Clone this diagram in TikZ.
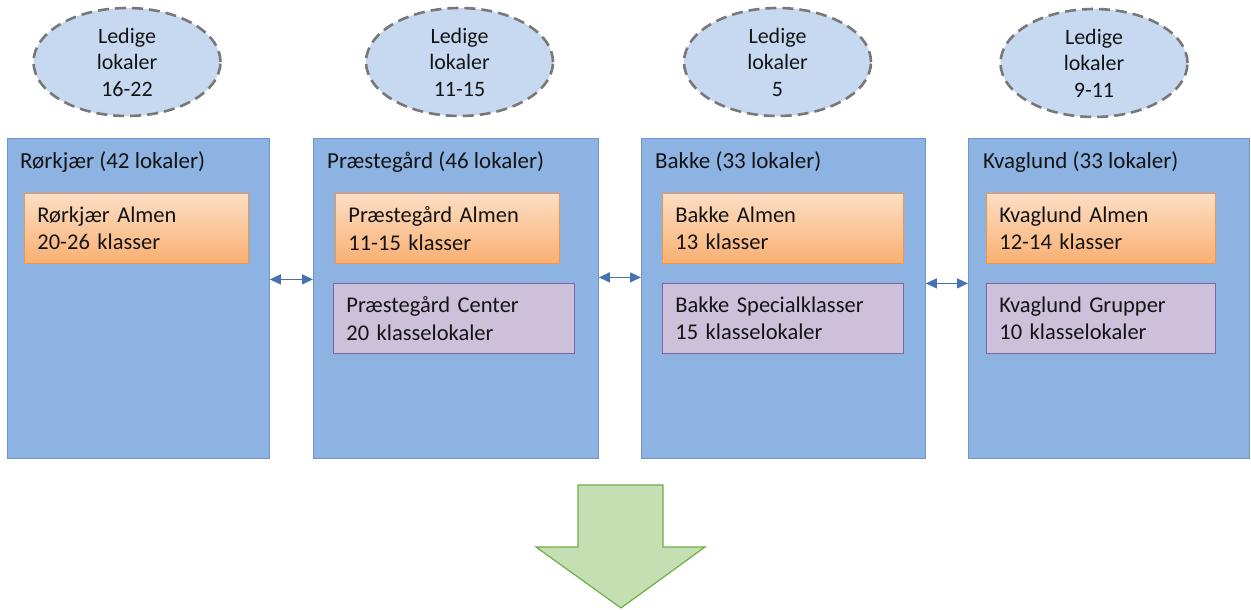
\documentclass[tikz,border=0pt]{standalone}
\usepackage{fontspec}
\setmainfont{Carlito}
\usetikzlibrary{shapes.geometric,arrows.meta}
\definecolor{boxblue}{RGB}{141,179,226}
\definecolor{boxblueborder}{RGB}{110,150,200}
\definecolor{ellfill}{RGB}{198,217,241}
\definecolor{ellborder}{RGB}{120,120,120}
\definecolor{orangetop}{RGB}{252,222,196}
\definecolor{orangebot}{RGB}{249,176,114}
\definecolor{orangeborder}{RGB}{240,150,70}
\definecolor{purplefill}{RGB}{204,192,218}
\definecolor{purpleborder}{RGB}{128,100,162}
\definecolor{greenfill}{RGB}{196,224,178}
\definecolor{greenborder}{RGB}{112,173,71}
\definecolor{arrowblue}{RGB}{70,114,180}
\definecolor{textcol}{RGB}{20,20,20}
\tikzset{
  bigbox/.style={draw=boxblueborder, fill=boxblue, line width=0.8pt, anchor=north west, inner sep=0pt},
  titletext/.style={anchor=west, font=\fontsize{23}{27}\selectfont, text=textcol, inner sep=0pt},
  orangebox/.style={draw=orangeborder, line width=0.8pt, top color=orangetop, bottom color=orangebot, anchor=north west, inner xsep=13pt, inner ysep=0pt, align=left, font=\fontsize{22.5}{27.5}\selectfont, text=textcol},
  purplebox/.style={draw=purpleborder, line width=0.8pt, fill=purplefill, anchor=north west, inner xsep=13pt, inner ysep=0pt, align=left, font=\fontsize{22.5}{27.5}\selectfont, text=textcol},
  ledig/.style={ellipse, draw=ellborder, fill=ellfill, line width=2.6pt, dash pattern=on 11pt off 6pt, minimum width=187pt, minimum height=108pt, inner sep=0pt, align=center, font=\fontsize{22}{26.5}\selectfont, text=textcol},
  link/.style={draw=arrowblue, line width=1.3pt, {Triangle[length=11pt,width=10pt]}-{Triangle[length=11pt,width=10pt]}},
}
\begin{document}
\begin{tikzpicture}[x=1pt,y=-1pt]
\useasboundingbox (0,0) rectangle (1251,610);

% ellipses
\node[ledig] (e1) at (127,62) {Ledige\\lokaler\\16-22};
\node[ledig] (e2) at (459.5,62) {Ledige\\lokaler\\11-15};
\node[ledig] (e3) at (777.5,62) {Ledige\\lokaler\\5};
\node[ledig] (e4) at (1094,63) {Ledige\\lokaler\\9-11};

% big boxes
\node[bigbox, minimum width=262pt, minimum height=320pt] (b1) at (7,138) {};
\node[bigbox, minimum width=285pt, minimum height=320pt] (b2) at (313,138) {};
\node[bigbox, minimum width=284pt, minimum height=320pt] (b3) at (641,138) {};
\node[bigbox, minimum width=281pt, minimum height=320pt] (b4) at (968,138) {};

% titles
\node[titletext] (t1) at (20,162) {Rørkjær (42 lokaler)};
\node[titletext] (t2) at (327,162) {Præstegård (46 lokaler)};
\node[titletext] (t3) at (655,162) {Bakke (33 lokaler)};
\node[titletext] (t4) at (983,162) {Kvaglund (33 lokaler)};

% inner boxes
\node[orangebox, minimum width=224pt, minimum height=70pt, text width=198pt] (o1) at (24,193) {Rørkjær Almen\\20-26 klasser};
\node[orangebox, minimum width=224pt, minimum height=70pt, text width=198pt] (o2) at (335,193) {Præstegård Almen\\11-15 klasser};
\node[purplebox, minimum width=241pt, minimum height=70pt, text width=215pt] (p2) at (333,283) {Præstegård Center\\20 klasselokaler};
\node[orangebox, minimum width=241pt, minimum height=70pt, text width=215pt] (o3) at (662,193) {Bakke Almen\\13 klasser};
\node[purplebox, minimum width=241pt, minimum height=70pt, text width=215pt] (p3) at (662,283) {Bakke Specialklasser\\15 klasselokaler};
\node[orangebox, minimum width=229pt, minimum height=70pt, text width=203pt] (o4) at (986,193) {Kvaglund Almen\\12-14 klasser};
\node[purplebox, minimum width=229pt, minimum height=70pt, text width=203pt] (p4) at (986,283) {Kvaglund Grupper\\10 klasselokaler};

% connectors
\draw[link] ([yshift=19pt]b1.east) -- ([yshift=19pt]b2.west);
\draw[link] ([yshift=21pt]b2.east) -- ([yshift=21pt]b3.west);
\draw[link] ([yshift=15pt]b3.east) -- ([yshift=15pt]b4.west);

% big green arrow
\draw[draw=greenborder, fill=greenfill, line width=1.2pt, line join=miter]
  (578,485) -- (663,485) -- (663,547) -- (705,547) -- (621,608) -- (536,547) -- (578,547) -- cycle;
\end{tikzpicture}
\end{document}
